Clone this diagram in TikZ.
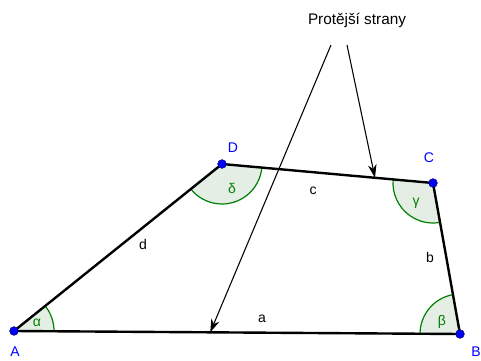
\documentclass[tikz,border=0pt]{standalone}
\usepackage{fontspec}
\setmainfont{Liberation Sans}
\usetikzlibrary{angles,quotes,calc,arrows.meta}
\definecolor{angG}{RGB}{0,128,0}
\definecolor{angF}{RGB}{228,238,228}
\definecolor{ptB}{RGB}{0,0,255}
\definecolor{ptO}{RGB}{0,0,100}
\tikzset{
  side/.style={line width=1.8pt,black},
  pt/.style={circle,fill=ptB,draw=ptO,line width=0.4pt,inner sep=0pt,minimum size=6.5pt},
  ptlab/.style={text=ptB,font=\fontsize{10.5}{12}\selectfont},
  sidelab/.style={font=\fontsize{10.5}{12}\selectfont},
  ang/.style={draw=angG,fill=angF,line width=0.9pt,angle radius=30pt},
  anglab/.style={text=angG,font=\fontsize{10.5}{12}\selectfont},
  pointer/.style={line width=0.8pt,-{Stealth[length=10pt,width=6.5pt]}}
}
\begin{document}
\begin{tikzpicture}[x=0.75pt,y=-0.75pt]
\useasboundingbox (0,0) rectangle (481,360);
\coordinate (A) at (14,331);
\coordinate (B) at (460,334);
\coordinate (C) at (433,183);
\coordinate (D) at (222,164);
% angle sectors
\pic[ang] {angle=B--A--D};
\pic[ang] {angle=C--B--A};
\pic[ang] {angle=D--C--B};
\pic[ang] {angle=A--D--C};
% sides
\draw[side] (A) -- (B) -- (C) -- (D) -- cycle;
% pointers
\node[font=\fontsize{11.5}{13}\selectfont] (title) at (357,20) {Protější strany};
\coordinate (s1) at (331,45);
\coordinate (s2) at (347,45);
\coordinate (e1) at ($(A)!0.44!(B)$);
\coordinate (e2) at ($(D)!0.725!(C)$);
\draw[pointer] (s1) -- (e1);
\draw[pointer] (s2) -- (e2);
% points
\node[pt] (pA) at (A) {};
\node[pt] (pB) at (B) {};
\node[pt] (pC) at (C) {};
\node[pt] (pD) at (D) {};
\node[ptlab] (lA) at (15,352) {A};
\node[ptlab] (lB) at (476,352) {B};
\node[ptlab] (lC) at (429,158) {C};
\node[ptlab] (lD) at (233,148) {D};
% side labels
\node[sidelab] (la) at (262,319) {a};
\node[sidelab] (lb) at (430,257) {b};
\node[sidelab] (lc) at (313,191) {c};
\node[sidelab] (ld) at (143,244) {d};
% angle labels
\node[anglab] (al) at (37,323) {α};
\node[anglab] (be) at (442,322) {β};
\node[anglab] (ga) at (416,203) {γ};
\node[anglab] (de) at (232,188) {δ};
\end{tikzpicture}
\end{document}
